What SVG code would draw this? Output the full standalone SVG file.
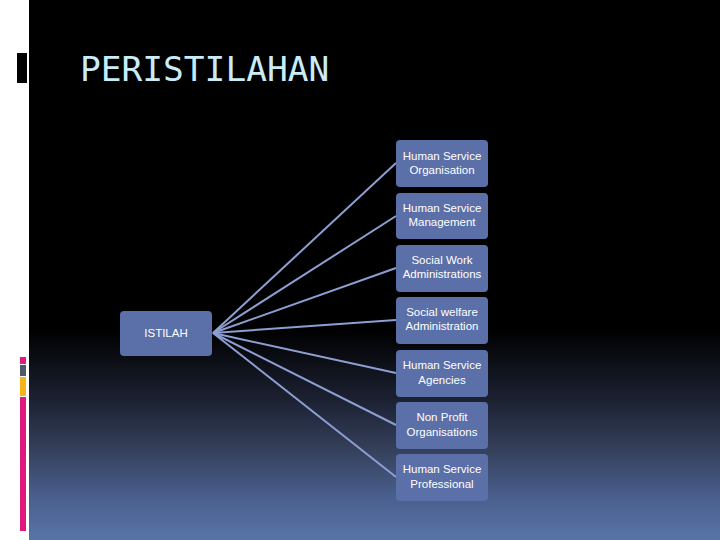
<svg xmlns="http://www.w3.org/2000/svg" width="720" height="540" viewBox="0 0 720 540">
<defs>
<linearGradient id="bg" x1="0" y1="0" x2="0" y2="1">
<stop offset="0" stop-color="#000000"/>
<stop offset="0.61" stop-color="#000000"/>
<stop offset="0.74" stop-color="#1c2132"/>
<stop offset="0.83" stop-color="#343f5a"/>
<stop offset="0.926" stop-color="#4b6190"/>
<stop offset="1" stop-color="#5874a6"/>
</linearGradient>
<style>
.box{fill:#5b6fa8;}
.lbl{font-family:"Liberation Sans","DejaVu Sans",sans-serif;font-size:11.5px;fill:#ffffff;text-anchor:middle;}
.conn{stroke:#8d9fd2;stroke-width:2;fill:none;}
</style>
</defs>
<rect x="0" y="0" width="720" height="540" fill="#ffffff"/>
<rect x="29" y="0" width="691" height="540" fill="url(#bg)"/>
<rect x="17" y="53" width="10" height="30" fill="#000000"/>
<rect x="20" y="357" width="6" height="7" fill="#e0197d"/>
<rect x="20" y="365" width="6" height="11" fill="#4e5868"/>
<rect x="20" y="377" width="6" height="19" fill="#f4b41a"/>
<rect x="20" y="397" width="6" height="134" fill="#e0197d"/>
<text x="80" y="81" font-family="'DejaVu Sans Mono','Liberation Mono',monospace" font-size="34.5" fill="#c8ecf8">PERISTILAHAN</text>
<g id="connectors">
<line class="conn" x1="213" y1="333" x2="396" y2="163"/>
<line class="conn" x1="213" y1="333" x2="396" y2="216"/>
<line class="conn" x1="213" y1="333" x2="396" y2="268"/>
<line class="conn" x1="213" y1="333" x2="396" y2="320"/>
<line class="conn" x1="213" y1="333" x2="396" y2="373"/>
<line class="conn" x1="213" y1="333" x2="396" y2="425"/>
<line class="conn" x1="213" y1="333" x2="396" y2="477"/>
</g>
<g id="istilah">
<rect class="box" x="120" y="311" width="92" height="45" rx="4"/>
<text class="lbl" x="166" y="337" font-size="12">ISTILAH</text>
</g>
<g id="n1">
<rect class="box" x="396" y="140" width="92" height="47" rx="4"/>
<text class="lbl" x="442" y="160">Human Service</text>
<text class="lbl" x="442" y="174">Organisation</text>
</g>
<g id="n2">
<rect class="box" x="396" y="193" width="92" height="46" rx="4"/>
<text class="lbl" x="442" y="212">Human Service</text>
<text class="lbl" x="442" y="226">Management</text>
</g>
<g id="n3">
<rect class="box" x="396" y="245" width="92" height="47" rx="4"/>
<text class="lbl" x="442" y="264">Social Work</text>
<text class="lbl" x="442" y="278">Administrations</text>
</g>
<g id="n4">
<rect class="box" x="396" y="297" width="92" height="47" rx="4"/>
<text class="lbl" x="442" y="316">Social welfare</text>
<text class="lbl" x="442" y="330">Administration</text>
</g>
<g id="n5">
<rect class="box" x="396" y="350" width="92" height="47" rx="4"/>
<text class="lbl" x="442" y="369">Human Service</text>
<text class="lbl" x="442" y="384">Agencies</text>
</g>
<g id="n6">
<rect class="box" x="396" y="402" width="92" height="47" rx="4"/>
<text class="lbl" x="442" y="421">Non Profit</text>
<text class="lbl" x="442" y="436">Organisations</text>
</g>
<g id="n7">
<rect class="box" x="396" y="454" width="92" height="47" rx="4"/>
<text class="lbl" x="442" y="473">Human Service</text>
<text class="lbl" x="442" y="488">Professional</text>
</g>
</svg>
